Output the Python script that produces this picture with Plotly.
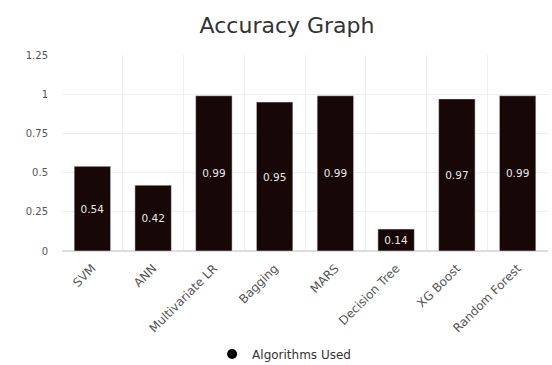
import plotly.graph_objects as go

algorithms = ["SVM", "ANN", "Multivariate LR", "Bagging", "MARS", "Decision Tree", "XG Boost", "Random Forest"]
accuracy = [0.54, 0.42, 0.99, 0.95, 0.99, 0.14, 0.97, 0.99]
y_ticks = [0, 0.25, 0.5, 0.75, 1, 1.25]
y_tick_labels = ["0", "0.25", "0.5", "0.75", "1", "1.25"]
series_name = "Algorithms Used"
bar_color = "#170707"

fig = go.Figure()
fig.add_trace(go.Bar(
    x=algorithms, y=accuracy, name=series_name,
    marker=dict(color=bar_color),
    text=[f"{v:.2f}" for v in accuracy],
    textposition="inside", insidetextanchor="middle",
    textfont=dict(color="#e8e8e8", size=10.5, family="DejaVu Sans"),
    showlegend=False,
))
fig.add_trace(go.Scatter(
    x=[None], y=[None], mode="markers", name=series_name,
    marker=dict(color="black", size=10, symbol="circle"),
    showlegend=True,
))

fig.update_layout(
    width=552, height=365,
    margin=dict(l=62, r=4, t=55, b=114, autoexpand=False),
    paper_bgcolor="white", plot_bgcolor="white",
    title=dict(text="Accuracy Graph", x=0.52, xanchor="center", y=1 - 25 / 365, yanchor="middle",
               font=dict(family="DejaVu Sans", size=22, color="#333")),
    bargap=0.4,
    font=dict(family="DejaVu Sans", size=10, color="#555"),
    xaxis=dict(tickangle=-45, tickson="boundaries", showgrid=True, gridcolor="#eeeeee",
               ticks="", ticklabelstandoff=7, automargin=False,
               tickfont=dict(size=12, color="#555")),
    yaxis=dict(range=[0, 1.25], tickvals=y_ticks, ticktext=y_tick_labels, showgrid=True,
               gridcolor="#eeeeee", zeroline=True, zerolinecolor="#dddddd",
               ticklabelstandoff=13, automargin=False,
               tickfont=dict(size=10, color="#555")),
    legend=dict(orientation="h", x=0.457, xanchor="center", yref="container",
                y=1 - 354 / 365, yanchor="middle", itemwidth=30,
                font=dict(size=12, color="#333")),
)

fig.write_html("out.html")
